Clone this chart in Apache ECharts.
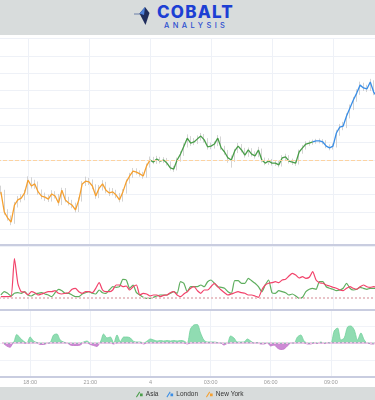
<!DOCTYPE html>
<html><head><meta charset="utf-8">
<script src="https://cdn.jsdelivr.net/npm/echarts/dist/echarts.min.js"></script>
<style>
html,body{margin:0;padding:0;background:#fff;overflow:hidden;width:375px;height:400px;}
#wrap{position:absolute;left:0;top:0;width:375px;height:400px;overflow:hidden;}
#chart{position:absolute;left:-33px;top:0;width:427px;height:400px;}
#hdr{position:absolute;left:0;top:0;width:375px;height:35px;background:#d8dcdc;z-index:5;overflow:hidden;}
#brand{position:absolute;left:157px;top:4px;font-family:Inter,'Open Sans',sans-serif;font-weight:800;font-size:17px;line-height:17px;color:#1c3fd4;letter-spacing:1.2px;}
#sub{position:absolute;left:164px;top:22px;font-family:Inter,'Open Sans',sans-serif;font-weight:500;font-size:7.5px;line-height:8px;color:#2d4fd0;letter-spacing:3.4px;}
</style></head>
<body>
<div id="wrap">
<div id="chart"></div>
<div id="hdr">
  <svg width="375" height="35" style="position:absolute;left:0;top:0">
    <line x1="134" y1="14" x2="140" y2="14" stroke="#6b7fa8" stroke-width="1"/>
    <polygon points="145,7 149.5,13 145.5,25 139.5,13.5" fill="#1f2d5c"/>
    <polygon points="145,7 139.5,13.5 144,15" fill="#4d7fd8"/>
  </svg>
  <div id="brand">COBALT</div>
  <div id="sub">ANALYSIS</div>
</div>
</div>
<script>
// time of first sample (hours from day 3 00:00) and sample step (10 minutes)
const T_START = 16 + 40 / 60;
const T_STEP = 1 / 6;
const OPEN_FIRST = 91.5;
const REF_LEVEL = 100;

const tickHours = [18, 21, 24, 27, 30, 33];
const tickLabels = ['18:00', '21:00', '4', '03:00', '06:00', '09:00'];

const sessionNames = ['New York', 'Asia', 'London'];
const sessionStart = [0, 44, 92];
const sessionEnd = [44, 92, 111];

const closes = [90.8,85.0,83.3,82.1,87.0,88.5,89.0,90.5,94.2,92.5,
 93.1,90.8,89.6,89.3,88.7,90.2,89.6,87.6,91.3,88.5,
 87.6,87.0,85.6,88.5,93.1,93.9,93.7,92.5,89.6,91.9,
 93.1,91.3,90.5,90.8,89.9,88.5,90.8,93.7,95.4,96.8,
 96.5,96.0,95.4,98.3,100.0,99.4,100.3,99.7,100.0,99.1,
 97.7,97.4,100.0,101.7,104.0,106.3,104.9,105.2,106.1,106.9,
 105.8,103.8,104.0,104.6,106.3,103.5,102.3,100.6,100.0,102.6,
 104.0,102.9,101.4,102.9,101.7,101.2,102.9,100.0,99.1,99.7,
 99.1,99.1,98.6,100.6,100.9,99.7,99.4,99.1,102.3,103.5,
 104.6,104.9,105.2,105.5,105.5,105.2,104.0,103.5,104.0,107.8,
 109.5,109.8,112.7,115.0,117.3,119.3,121.6,120.8,120.5,122.5,
 119.6,118.2];

const highs = [92.6,91.4,85.8,84.0,87.9,89.6,90.1,91.4,95.3,95.0,
 94.3,93.8,91.5,90.6,90.0,91.3,91.0,90.2,92.0,91.9,
 89.4,88.5,87.7,89.2,93.9,95.2,94.8,94.4,93.0,92.8,
 94.2,93.7,92.0,91.9,91.4,90.5,91.6,94.4,96.3,97.7,
 97.6,97.0,96.6,99.0,101.0,100.9,101.2,100.9,100.8,100.6,
 99.6,98.3,100.7,102.5,104.8,107.4,106.9,106.3,107.1,107.8,
 107.5,106.3,105.0,105.4,107.2,106.8,104.1,102.9,101.3,103.2,
 104.9,104.6,103.5,103.6,103.4,102.5,103.8,103.3,100.7,100.5,
 100.3,99.9,99.7,101.4,101.8,101.4,100.4,100.0,103.0,104.3,
 105.4,105.6,105.9,106.1,106.2,106.0,105.7,104.5,104.8,108.7,
 110.4,111.0,113.5,116.0,118.2,120.4,122.6,122.3,121.7,123.4,
 123.0,120.3];

const lows = [90.1,84.2,82.5,81.2,81.6,86.3,87.8,88.4,90.0,91.8,
 91.7,90.0,88.7,88.2,87.9,88.0,88.9,86.8,87.0,87.8,
 86.9,86.1,84.9,85.0,88.0,92.5,92.8,91.6,88.8,89.0,
 91.2,90.4,89.6,89.8,89.0,87.8,88.0,90.3,93.2,94.9,
 95.8,95.2,94.6,94.9,97.8,98.8,98.9,99.0,99.1,98.4,
 97.0,96.6,97.0,99.5,101.2,103.6,104.1,104.3,104.6,105.6,
 105.0,103.0,103.1,103.3,104.0,102.9,101.5,99.2,97.8,99.4,
 102.0,102.2,100.7,100.9,101.0,100.4,100.8,99.3,98.5,98.6,
 98.4,98.3,97.9,98.1,100.0,99.0,98.6,98.3,98.7,101.8,
 103.0,104.1,104.4,104.7,104.8,104.5,103.4,102.8,103.0,103.6,
 107.0,108.6,109.2,112.0,114.4,116.8,118.8,119.9,119.6,119.9,
 118.7,117.4];

const redLine = [1.3,1.3,1.5,1.3,39.5,14.7,6.3,6.0,3.0,6.3,
 5.3,3.0,4.0,5.3,6.3,6.3,7.3,4.7,4.0,4.7,
 5.3,8.7,9.7,6.3,4.7,6.3,6.3,5.3,9.7,15.3,
 8.0,6.3,6.3,8.0,13.0,13.0,11.3,12.0,8.0,11.3,
 13.0,3.0,4.7,4.0,2.0,3.0,3.0,1.3,2.7,3.0,
 5.3,6.3,3.0,1.3,4.0,6.3,9.7,11.3,7.3,4.7,
 8.0,8.0,11.3,14.7,11.3,8.0,5.3,3.0,4.0,5.3,
 6.3,5.3,4.7,3.0,3.0,2.0,0.7,8.0,13.0,14.7,
 15.3,16.3,15.3,18.0,18.7,22.0,24.7,23.0,20.0,21.3,
 19.7,20.7,26.3,18.0,15.3,14.7,13.0,12.0,10.7,9.7,
 8.0,7.3,9.7,11.3,9.7,8.7,11.3,13.0,11.3,10.7,
 11.3,10.7];

const greenLine = [3.0,6.3,4.7,2.0,4.7,5.3,4.7,6.3,3.0,2.0,
 4.0,4.7,5.3,4.0,3.0,1.3,5.3,8.7,7.3,4.7,
 4.7,3.0,1.3,1.3,4.0,5.3,6.3,4.7,4.0,8.0,
 5.3,4.7,8.0,11.3,10.7,11.3,18.7,18.0,9.7,13.0,
 5.3,3.0,0.7,-0.3,-0.3,0.7,2.0,3.0,3.0,3.0,
 4.7,6.3,4.7,16.3,14.7,6.3,11.3,11.3,11.3,13.0,
 11.3,16.3,18.0,14.7,11.3,10.7,9.7,6.3,4.7,17.3,
 17.3,14.7,14.7,19.7,17.3,14.7,11.3,6.3,13.0,18.0,
 5.3,4.7,7.3,6.3,5.3,3.0,4.0,2.0,-0.3,0.7,
 6.3,8.7,9.7,8.7,16.3,16.3,11.3,9.7,8.7,7.3,
 8.0,9.7,14.7,9.7,8.0,8.7,10.7,9.7,8.7,9.7,
 9.7,9.7];

const flow = [-0.5,-3,-4.3,0.5,8.5,5,2,-0.5,6,2,
 0.5,-1.5,-1.5,-0.5,0.5,8,9,3,1,0,
 -2,-2.5,-2.5,-2,1,2,-1.5,-2.5,-3.5,1,
 9,5,6,-1,8,1.5,6,6,5,1.5,
 1,1,-1,2,4,3,2,2.5,2,2.5,
 2,2.5,2,2.5,2,-1,14,18,18.5,10,
 3,1,1,1,0.5,0,-2,-0.5,7,5,
 1,1,1,4,2,0,0.5,-1,-1,0,
 -3,-2,-5,-6.5,-6,-3,0,0,6,8,
 2,-1,-1,0.5,-0.5,1,-0.5,0.5,0,12,
 15,3,5,16,17,13,3,10,3,0,
 -1,-1];

const times = closes.map((_, i) => T_START + i * T_STEP);
const opens = closes.map((c, i) => i === 0 ? OPEN_FIRST : closes[i - 1]);

const sessionColors = {'New York': '#f5a030', 'Asia': '#4a9e4a', 'London': '#3a8ee6'};

const X_MIN = 15, X_MAX = 36;
function fmtX(v) {
  const k = tickHours.indexOf(v);
  return k >= 0 ? tickLabels[k] : '';
}
function xAxisFor(gi, showLabels, lineOffset) {
  return {
    type: 'value', gridIndex: gi, min: X_MIN, max: X_MAX, interval: 3,
    offset: lineOffset || 0,
    axisLine: {show: true, onZero: false, lineStyle: {color: '#c9cde0', width: 2}},
    axisTick: {show: false},
    axisLabel: {show: showLabels, fontSize: 5.5, color: '#9a9a9a', margin: 2.5,
      fontFamily: 'Liberation Sans, Arial, sans-serif', formatter: fmtX},
    splitLine: {show: true, lineStyle: {color: '#eef1f7', width: 1}}
  };
}

const chart = echarts.init(document.getElementById('chart'), null, {renderer: 'canvas'});

const series = [];
series.push({
  type: 'candlestick', name: 'range', xAxisIndex: 0, yAxisIndex: 0, z: 1,
  barWidth: 1, silent: true,
  encode: {x: 0, y: [1, 2, 3, 4]},
  data: times.map((t, i) => [t, opens[i], closes[i], lows[i], highs[i]]),
  itemStyle: {color: '#c2c2c2', color0: '#c2c2c2', borderColor: '#c2c2c2', borderColor0: '#c2c2c2', borderWidth: 0.7}
});
sessionNames.forEach((name, k) => {
  const d = [];
  for (let i = sessionStart[k]; i <= sessionEnd[k]; i++) d.push([times[i], closes[i]]);
  const s = {
    type: 'line', name: name, xAxisIndex: 0, yAxisIndex: 0, z: 3,
    data: d, showSymbol: false, symbol: 'none',
    lineStyle: {color: sessionColors[name], width: 1.3},
    itemStyle: {color: sessionColors[name]}
  };
  if (k === 0) {
    s.markLine = {silent: true, symbol: 'none', label: {show: false},
      lineStyle: {color: '#fcd3a2', type: 'dashed', width: 1},
      data: [{yAxis: REF_LEVEL}]};
  }
  series.push(s);
});
series.push({
  type: 'line', name: 'red', xAxisIndex: 1, yAxisIndex: 1, z: 3,
  data: times.map((t, i) => [t, redLine[i]]), symbol: 'none', smooth: 0.2,
  lineStyle: {color: '#f2436b', width: 1.2},
  markLine: {silent: true, symbol: 'none', label: {show: false},
    lineStyle: {color: '#e9c3c8', type: 'dotted', width: 2}, data: [{yAxis: 0}]}
});
series.push({
  type: 'line', name: 'green', xAxisIndex: 1, yAxisIndex: 1, z: 2,
  data: times.map((t, i) => [t, greenLine[i]]), symbol: 'none', smooth: 0.2,
  lineStyle: {color: '#5fae5f', width: 1.2}
});
series.push({
  type: 'line', name: 'flowUp', xAxisIndex: 2, yAxisIndex: 2, z: 2,
  data: times.map((t, i) => [t, Math.max(flow[i], 0)]), symbol: 'none', smooth: 0.3,
  lineStyle: {color: '#72d09c', width: 0.8},
  areaStyle: {color: '#84d8aa', opacity: 0.9},
  markLine: {silent: true, symbol: 'none', label: {show: false},
    lineStyle: {color: '#edc8e6', type: 'dotted', width: 2}, data: [{yAxis: 0}]}
});
series.push({
  type: 'line', name: 'flowDown', xAxisIndex: 2, yAxisIndex: 2, z: 2,
  data: times.map((t, i) => [t, Math.min(flow[i], 0)]), symbol: 'none', smooth: 0.3,
  lineStyle: {color: '#c070c8', width: 0.8},
  areaStyle: {color: '#c77dcf', opacity: 0.9}
});

const legendIcon = 'path://M0,10 L5,2 L6.2,3 L1.2,11 Z M6,5 L10,5 L10,9 L6,9 Z';

chart.setOption({
  animation: false,
  backgroundColor: '#ffffff',
  graphic: [{type: 'rect', left: 0, top: 387, shape: {width: 427, height: 13}, style: {fill: '#d8dcdc'}, silent: true}],
  legend: {
    data: ['Asia', 'London', 'New York'], bottom: 2, left: 169, padding: 0,
    itemWidth: 7, itemHeight: 6, itemGap: 8, icon: legendIcon,
    textStyle: {fontSize: 6.5, color: '#333', fontFamily: 'Liberation Sans, Arial, sans-serif', padding: [0, 0, 0, -2]}
  },
  grid: [
    {left: 0, right: 0, top: 38.67, height: 208},
    {left: 0, right: 0, top: 246.67, height: 63.33},
    {left: 0, right: 0, top: 310, height: 67}
  ],
  xAxis: [xAxisFor(0, false, -1.5), xAxisFor(1, false), xAxisFor(2, true)],
  yAxis: [
    {type: 'value', gridIndex: 0, min: 75, max: 135, interval: 5, position: 'right',
      axisLine: {show: false}, axisTick: {show: false}, axisLabel: {show: false},
      splitLine: {show: true, lineStyle: {color: '#eef1f7'}}},
    {type: 'value', gridIndex: 1, min: -12, max: 51.33, interval: 16, position: 'right',
      axisLine: {show: false}, axisTick: {show: false}, axisLabel: {show: false},
      splitLine: {show: false}},
    {type: 'value', gridIndex: 2, min: -34, max: 33, interval: 17, position: 'right',
      axisLine: {show: false}, axisTick: {show: false}, axisLabel: {show: false},
      splitLine: {show: true, lineStyle: {color: '#f1f3f8'}}}
  ],
  series: series
});
</script>
</body></html>
